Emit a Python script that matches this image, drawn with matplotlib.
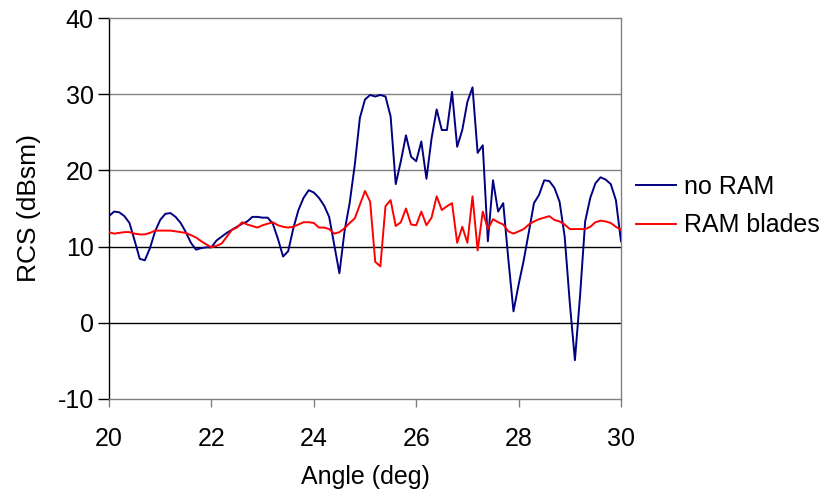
import matplotlib
matplotlib.use("Agg")
import matplotlib.pyplot as plt
import numpy as np

plt.rcParams['font.family'] = ['Liberation Sans', 'DejaVu Sans']
plt.rcParams['axes.unicode_minus'] = False

angle = np.round(np.arange(20.0, 30.05, 0.1), 1)

no_ram = [
    14.0, 14.6, 14.5, 14.0, 13.1, 10.8, 8.4, 8.2, 9.8, 12.0,
    13.5, 14.3, 14.4, 13.9, 13.1, 11.9, 10.5, 9.6, 9.8, 9.9,
    9.9, 10.8, 11.3, 11.8, 12.2, 12.6, 13.0, 13.3, 13.9, 13.9,
    13.8, 13.8, 13.0, 11.0, 8.7, 9.4, 12.4, 14.8, 16.4, 17.4,
    17.1, 16.4, 15.4, 13.9, 10.2, 6.5, 12.0, 15.7, 20.7, 26.9,
    29.3, 29.9, 29.7, 29.9, 29.7, 27.1, 18.2, 21.2, 24.6, 21.8,
    21.2, 23.8, 18.9, 24.2, 28.0, 25.3, 25.3, 30.3, 23.1, 25.3,
    29.0, 30.9, 22.3, 23.3, 10.7, 18.7, 14.6, 15.7, 8.3, 1.5,
    5.0, 8.2, 11.9, 15.7, 16.8, 18.7, 18.6, 17.7, 15.9, 11.3,
    2.6, -4.9, 3.5, 13.3, 16.4, 18.3, 19.1, 18.8, 18.2, 16.1,
    10.7,
]

ram_blades = [
    11.9, 11.7, 11.8, 11.9, 11.9, 11.7, 11.6, 11.6, 11.8, 12.1,
    12.1, 12.1, 12.1, 12.0, 11.9, 11.8, 11.5, 11.2, 10.7, 10.3,
    9.9, 10.1, 10.4, 11.3, 12.2, 12.5, 13.2, 12.9, 12.7, 12.5,
    12.8, 13.0, 13.2, 12.8, 12.6, 12.5, 12.6, 12.9, 13.2, 13.2,
    13.1, 12.5, 12.5, 12.3, 11.7, 11.9, 12.4, 13.1, 13.7, 15.5,
    17.3, 15.9, 8.0, 7.4, 15.3, 16.1, 12.7, 13.2, 15.0, 12.9,
    12.8, 14.6, 12.8, 13.8, 16.6, 14.8, 15.3, 15.7, 10.5, 12.6,
    10.5, 16.6, 9.5, 14.6, 12.3, 13.6, 13.2, 12.9, 12.0, 11.7,
    12.0, 12.3, 12.9, 13.3, 13.6, 13.8, 14.0, 13.5, 13.3, 12.9,
    12.3, 12.3, 12.3, 12.3, 12.6, 13.2, 13.4, 13.3, 13.1, 12.6,
    12.2,
]

x_ticks = [20, 22, 24, 26, 28, 30]
y_ticks = [-10, 0, 10, 20, 30, 40]

fig = plt.figure(figsize=(8.27, 4.99), dpi=100)
ax = fig.add_axes([109/827, 1 - 399/499, (621 - 109)/827, (399 - 18)/499])

for yv in [20, 30]:
    ax.axhline(yv, color='#808080', lw=1.0, zorder=1)
for yv in [0, 10]:
    ax.axhline(yv, color='black', lw=1.0, zorder=1)

l1, = ax.plot(angle, no_ram, color='#000080', lw=1.4, label='no RAM', zorder=3)
l2, = ax.plot(angle, ram_blades, color='#FF0000', lw=1.4, label='RAM blades', zorder=3)

ax.set_xlim(20, 30)
ax.set_ylim(-10, 40)
ax.set_xticks(x_ticks)
ax.set_yticks(y_ticks)
ax.tick_params(axis='y', direction='out', length=8, width=1, colors='black', labelsize=18, pad=3)
ax.tick_params(axis='x', direction='out', length=6, width=1, color='#808080', labelcolor='black', labelsize=18, pad=14)

for s in ['top', 'right', 'bottom']:
    ax.spines[s].set_color('#808080')
    ax.spines[s].set_linewidth(1.0)
ax.spines['left'].set_color('black')
ax.spines['left'].set_linewidth(1.0)

ax.set_xlabel('Angle (deg)', fontsize=18, labelpad=10)
ax.set_ylabel('RCS (dBsm)', fontsize=19, labelpad=12)

fig.legend(handles=[l1, l2], loc='center left', bbox_to_anchor=(636/827, 1 - 206/499),
           frameon=False, fontsize=18, borderpad=0, borderaxespad=0,
           handlelength=1.6, handletextpad=0.32, labelspacing=0.6)

fig.savefig('out.png', dpi=100)
